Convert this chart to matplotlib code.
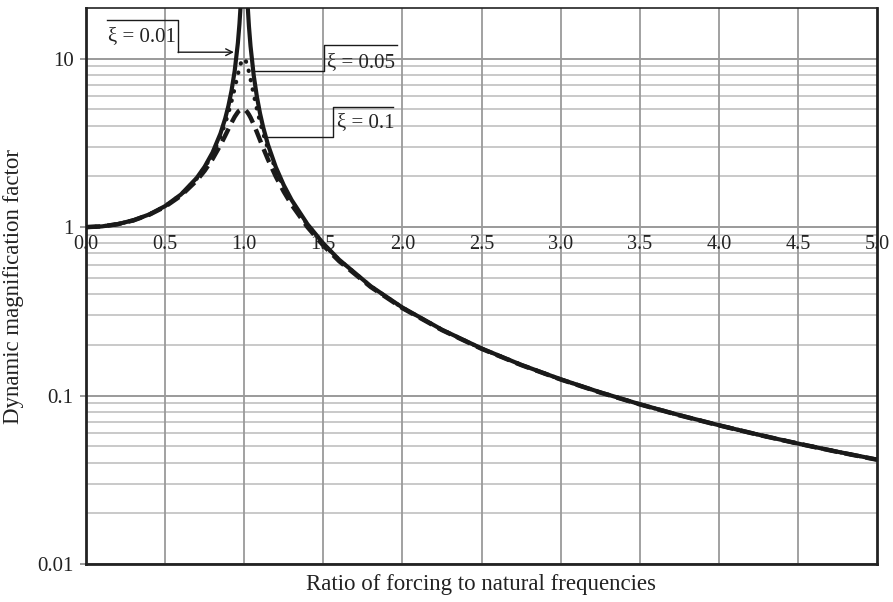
import matplotlib
matplotlib.use("Agg")
import matplotlib.pyplot as plt
from matplotlib.ticker import FixedLocator, NullFormatter, NullLocator

plt.rcParams["font.family"] = ["Liberation Serif", "DejaVu Serif"]

# Frequency ratio r = omega / omega_n
ratio = [0.0, 0.1, 0.2, 0.3, 0.4, 0.5, 0.6, 0.7, 0.75, 0.8, 0.85, 0.88, 0.9,
         0.92, 0.94, 0.96, 0.97, 0.98, 0.99, 1.0, 1.01, 1.02, 1.03, 1.04, 1.06,
         1.08, 1.1, 1.12, 1.15, 1.2, 1.25, 1.3, 1.4, 1.5, 1.6, 1.8, 2.0, 2.25,
         2.5, 2.75, 3.0, 3.25, 3.5, 3.75, 4.0, 4.25, 4.5, 4.75, 5.0]

# Dynamic magnification factor for each damping ratio
dmf_001 = [1.0, 1.010, 1.042, 1.099, 1.190, 1.333, 1.562, 1.960, 2.284, 2.775,
           3.597, 4.419, 5.240, 6.464, 8.481, 12.39, 16.08, 22.63, 35.62, 50.0,
           35.09, 22.10, 15.56, 11.88, 7.974, 5.960, 4.736, 3.916, 3.093, 2.269,
           1.776, 1.448, 1.041, 0.800, 0.641, 0.446, 0.3333, 0.2462, 0.1905,
           0.1524, 0.1250, 0.1046, 0.0889, 0.0766, 0.0667, 0.0586, 0.0519,
           0.0464, 0.0417]
dmf_005 = [1.0, 1.010, 1.041, 1.098, 1.189, 1.330, 1.556, 1.943, 2.253, 2.712,
           3.446, 4.130, 4.757, 5.585, 6.684, 8.068, 8.804, 9.461, 9.903, 10.0,
           9.711, 9.115, 8.357, 7.565, 6.141, 5.041, 4.218, 3.598, 2.921, 2.193,
           1.735, 1.424, 1.031, 0.794, 0.638, 0.445, 0.3326, 0.2458, 0.1903,
           0.1523, 0.1249, 0.1045, 0.0889, 0.0765, 0.0666, 0.0586, 0.0519,
           0.0464, 0.0417]
dmf_010 = [1.0, 1.010, 1.041, 1.097, 1.185, 1.322, 1.536, 1.891, 2.162, 2.538,
           3.073, 3.495, 3.821, 4.172, 4.523, 4.822, 4.931, 5.001, 5.025, 5.0,
           4.926, 4.809, 4.655, 4.476, 4.075, 3.668, 3.288, 2.950, 2.525, 1.995,
           1.625, 1.356, 1.000, 0.778, 0.628, 0.441, 0.3304, 0.2447, 0.1896,
           0.1519, 0.1247, 0.1043, 0.0887, 0.0764, 0.0666, 0.0585, 0.0519,
           0.0463, 0.0416]

x_ticks = [0.0, 0.5, 1.0, 1.5, 2.0, 2.5, 3.0, 3.5, 4.0, 4.5, 5.0]
x_tick_labels = ["0.0", "0.5", "1.0", "1.5", "2.0", "2.5", "3.0", "3.5",
                 "4.0", "4.5", "5.0"]
y_ticks = [0.01, 0.1, 1, 10]
y_tick_labels = ["0.01", "0.1", "1", "10"]
minor_y = [m * d for d in (0.01, 0.1, 1, 10) for m in range(2, 10)]

fig = plt.figure(figsize=(8.93, 6.02), dpi=100)
ax = fig.add_axes([86 / 893, 38 / 602, 791 / 893, 556 / 602])

ax.set_yscale("log")
ax.set_xlim(0, 5)
ax.set_ylim(0.01, 20)

# grid
for yv in minor_y:
    if yv < 20:
        ax.axhline(yv, color="#c9c9c9", lw=1.4, zorder=0)
for yv in y_ticks:
    ax.axhline(yv, color="#9a9a9a", lw=1.4, zorder=0.5)
for xv in x_ticks[1:-1]:
    ax.axvline(xv, color="#9a9a9a", lw=1.3, zorder=0.5)

# response curves
ax.plot(ratio, dmf_001, color="#1a1a1a", lw=3.0, solid_capstyle="butt", zorder=3)
ax.plot(ratio, dmf_005, color="#1a1a1a", lw=3.0, linestyle=(0, (0.1, 2.2)),
        dash_capstyle="round", zorder=4)
ax.plot(ratio, dmf_010, color="#1a1a1a", lw=3.2, linestyle=(0, (3.2, 1.6)),
        zorder=4)

# axes frame
for side in ("left", "right", "bottom"):
    ax.spines[side].set_linewidth(2.0)
    ax.spines[side].set_color("#222222")
ax.spines["top"].set_linewidth(1.2)
ax.spines["top"].set_color("#222222")

ax.xaxis.set_major_locator(FixedLocator(x_ticks))
ax.xaxis.set_minor_locator(NullLocator())
ax.tick_params(axis="x", which="both", length=0, labelbottom=False)

ax.yaxis.set_major_locator(FixedLocator(y_ticks))
ax.set_yticklabels(y_tick_labels)
ax.yaxis.set_minor_locator(NullLocator())
ax.yaxis.set_minor_formatter(NullFormatter())
ax.tick_params(axis="y", which="major", length=4, width=1.2, color="#888888",
               labelsize=15, pad=5, labelcolor="#222222")

# x tick labels sit on the DMF = 1 line
for xv, lab in zip(x_ticks, x_tick_labels):
    ax.annotate(lab, xy=(xv, 1.0), xytext=(0, -17), textcoords="offset pixels",
                ha="center", va="center", fontsize=14.5, color="#222222",
                zorder=6)

ax.set_xlabel("Ratio of forcing to natural frequencies", fontsize=16.5,
              color="#222222")
ax.xaxis.set_label_coords(0.5, -0.018)
ax.xaxis.label.set_va("top")
ax.set_ylabel("Dynamic magnification factor", fontsize=16.5, color="#222222")
ax.yaxis.set_label_coords(-0.079, 0.5)

# damping labels with leader lines
line_kw = dict(color="#1a1a1a", lw=1.0, clip_on=False, zorder=5)
txt_kw = dict(fontsize=15, color="#222222", va="center", ha="left", zorder=6)

ax.plot([0.133, 0.582, 0.582], [16.93, 16.93, 10.93], **line_kw)
ax.annotate("", xy=(0.935, 10.93), xytext=(0.582, 10.93),
            arrowprops=dict(arrowstyle="->", color="#1a1a1a", lw=1.0,
                            shrinkA=0, shrinkB=0, mutation_scale=12), zorder=5)
ax.text(0.139, 13.6, "ξ = 0.01", **txt_kw)

ax.plot([1.966, 1.504, 1.504, 1.056], [12.03, 12.03, 8.43, 8.43], **line_kw)
ax.text(1.525, 9.5, "ξ = 0.05", **txt_kw)

ax.plot([1.941, 1.561, 1.561, 1.144], [5.155, 5.155, 3.42, 3.42], **line_kw)
ax.text(1.585, 4.18, "ξ = 0.1", **txt_kw)

fig.savefig("out.png", dpi=100)
